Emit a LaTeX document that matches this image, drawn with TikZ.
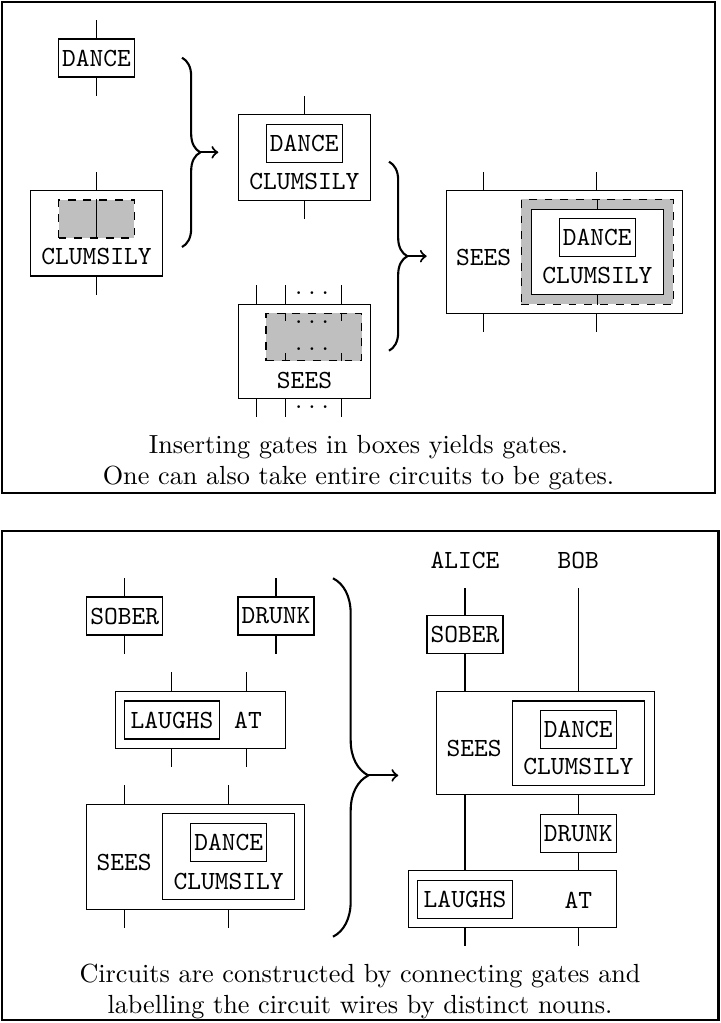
\documentclass[tikz,border=0pt]{standalone}
\usepackage{tikz}
\usetikzlibrary{calc,decorations.pathreplacing}

\begin{document}
\begin{tikzpicture}[
    x=0.3817pt, y=-0.3817pt,
    gate/.style={draw, font=\ttfamily, minimum width=29pt, minimum height=14.5pt, inner sep=0pt},
    box/.style={draw, inner sep=0pt},
    hole/.style={draw, dashed, fill=black!25, inner sep=0pt},
    word/.style={font=\ttfamily, inner sep=0pt},
    dots/.style={inner sep=0pt},
    note/.style={align=center, inner sep=0pt, anchor=north},
    wire/.style={thin},
    panel/.style={thick},
    curly/.style={decorate, decoration={brace, amplitude=7pt}, thick},
    arrow/.style={->, thick}
]
\useasboundingbox (0,0) rectangle (720,1023);

% Top panel
\draw[panel] (2,2) rectangle (715,493);

% DANCE gate
\node[gate] (dance1) at (96.5,58) {DANCE};
\draw[wire] (dance1.north) -- +(0,-18.3);
\draw[wire] (dance1.south) -- +(0,18.3);

% CLUMSILY box with a hole
\node[box, minimum width=50.5pt, minimum height=32.6pt] (clums1) at (96.5,233.3) {};
\node[hole, minimum width=29pt, minimum height=14.5pt] (hole1) at (96.5,219) {};
\draw[wire] (hole1.north) -- (hole1.south);
\node[word] (clums1txt) at (96.5,256.7) {CLUMSILY};
\draw[wire] (clums1.north) -- +(0,-18.3);
\draw[wire] (clums1.south) -- +(0,18.3);

% first brace
\coordinate (b1top) at (182,57.7);
\coordinate (b1bot) at (182,247);
\coordinate (b1tip) at (200.3,152.3);
\coordinate (b1end) at (218.3,152.3);
\draw[curly] (b1top) -- (b1bot);
\draw[arrow] (b1tip) -- (b1end);

% DANCE inside CLUMSILY
\node[box, minimum width=50.5pt, minimum height=32.5pt] (dc1) at (304.3,157.5) {};
\node[gate] (dance2) at (304.3,143.3) {DANCE};
\node[word] (dc1txt) at (304.3,181) {CLUMSILY};
\draw[wire] (dc1.north) -- +(0,-18.3);
\draw[wire] (dc1.south) -- +(0,18.3);

% SEES box with a hole
\node[box, minimum width=50.5pt, minimum height=36pt] (sees1) at (304.5,351.2) {};
\node[hole, minimum width=36.5pt, minimum height=18.1pt] (hole2) at (313.8,337) {};
\node[word] (sees1txt) at (304.5,380) {SEES};
\foreach \dx in {19,47.4,104} {
    \draw[wire] ($(sees1.north west)+(\dx,0)$) -- +(0,-19);
    \draw[wire] ($(sees1.south west)+(\dx,0)$) -- +(0,18.3);
}
\foreach \dx in {19.7,76.3} {
    \draw[wire] ($(hole2.north west)+(\dx,0)$) -- +(0,8.4);
    \draw[wire] ($(hole2.south west)+(\dx,0)$) -- +(0,-8.4);
}
\node[dots] (dotsA) at (312,293.3) {.\kern2.3pt.\kern2.3pt.};
\node[dots] (dotsB) at (312,321.7) {.\kern2.3pt.\kern2.3pt.};
\node[dots] (dotsC) at (312,349.3) {.\kern2.3pt.\kern2.3pt.};
\node[dots] (dotsD) at (312,406.7) {.\kern2.3pt.\kern2.3pt.};

% second brace
\coordinate (b2top) at (389,161.7);
\coordinate (b2bot) at (389,350.7);
\coordinate (b2tip) at (407.3,256.2);
\coordinate (b2end) at (426.7,256.2);
\draw[curly] (b2top) -- (b2bot);
\draw[arrow] (b2tip) -- (b2end);

% SEES with DANCE CLUMSILY inserted
\node[box, minimum width=90.2pt, minimum height=46.8pt] (sees2) at (564.2,252) {};
\node[hole, minimum width=57.9pt, minimum height=40pt] (hole3) at (597.3,251.7) {};
\draw[wire] (hole3.north) -- (hole3.south);
\node[box, fill=white, minimum width=50.5pt, minimum height=32.5pt] (dc2) at (597.3,251.8) {};
\node[gate] (dance3) at (597.3,237.8) {DANCE};
\node[word] (dc2txt) at (597.3,275.7) {CLUMSILY};
\node[word] (sees2txt) at (483.7,257) {SEES};
\foreach \dx in {38,151.3} {
    \draw[wire] ($(sees2.north west)+(\dx,0)$) -- +(0,-18.3);
    \draw[wire] ($(sees2.south west)+(\dx,0)$) -- +(0,18.3);
}

\node[note] (cap1) at (358.5,434.8) {Inserting gates in boxes yields gates.\\One can also take entire circuits to be gates.};

% Bottom panel
\draw[panel] (2,531) rectangle (718.5,1020);

% gates
\node[gate] (sober1) at (124.7,616) {SOBER};
\node[gate] (drunk1) at (276,616) {DRUNK};
\foreach \g in {sober1,drunk1} {
    \draw[wire] (\g.north) -- +(0,-18.3);
    \draw[wire] (\g.south) -- +(0,18.3);
}

% LAUGHS AT
\node[box, minimum width=65pt, minimum height=21.6pt] (la1) at (200.5,720) {};
\node[gate, minimum width=36.1pt] (laughs1) at (172,720) {LAUGHS};
\node[word] (at1) at (248,720.2) {AT};
\foreach \dx in {56.7,132} {
    \draw[wire] ($(la1.north west)+(\dx,0)$) -- +(0,-19);
    \draw[wire] ($(la1.south west)+(\dx,0)$) -- +(0,18.3);
}

% SEES DANCE CLUMSILY
\node[box, minimum width=83.1pt, minimum height=40pt] (sees3) at (195.5,856.7) {};
\node[box, minimum width=50.5pt, minimum height=32.5pt] (dc3) at (228.7,856.5) {};
\node[gate] (dance4) at (228.7,842.3) {DANCE};
\node[word] (dc3txt) at (228.7,881.7) {CLUMSILY};
\node[word] (sees3txt) at (124.2,862.3) {SEES};
\foreach \dx in {38.3,142} {
    \draw[wire] ($(sees3.north west)+(\dx,0)$) -- +(0,-18.3);
    \draw[wire] ($(sees3.south west)+(\dx,0)$) -- +(0,18.3);
}

% third brace
\coordinate (b3top) at (333,578.3);
\coordinate (b3bot) at (333,936.7);
\coordinate (b3tip) at (368.4,775.4);
\coordinate (b3end) at (398.3,775.4);
\draw[curly, decoration={brace, amplitude=13.5pt, aspect=0.55}] (b3top) -- (b3bot);
\draw[arrow] (b3tip) -- (b3end);

% circuit
\node[word] (alice) at (465,560) {ALICE};
\node[word] (bob) at (578.3,560) {BOB};
\node[gate] (sober2) at (465,634.8) {SOBER};
\node[box, minimum width=83.1pt, minimum height=39.4pt] (sees4) at (545.5,743.3) {};
\node[box, minimum width=50.5pt, minimum height=32.3pt] (dc4) at (578.3,743.3) {};
\node[gate] (dance5) at (578.3,729.5) {DANCE};
\node[word] (dc4txt) at (578.3,766.7) {CLUMSILY};
\node[word] (sees4txt) at (474.2,748) {SEES};
\node[gate] (drunk2) at (578.3,833.2) {DRUNK};
\node[box, minimum width=79.4pt, minimum height=21.8pt] (la2) at (512.3,899.2) {};
\node[gate, minimum width=36.1pt] (laughs2) at (465,899.3) {LAUGHS};
\node[word] (at2) at (578.3,900.7) {AT};

% wires of the circuit
\draw[wire] (alice) ++(0,28.3) -- (sober2);
\draw[wire] (sober2) -- (sober2 |- sees4.north);
\draw[wire] (sober2 |- sees4.south) -- (sober2 |- la2.north);
\draw[wire] (laughs2 |- la2.south) -- +(0,18);
\draw[wire] (bob) ++(0,28.3) -- (bob |- sees4.north);
\draw[wire] (bob |- sees4.south) -- (drunk2);
\draw[wire] (drunk2) -- (drunk2 |- la2.north);
\draw[wire] (drunk2 |- la2.south) -- +(0,18);

\node[note] (cap2) at (360,963.5) {Circuits are constructed by connecting gates and\\labelling the circuit wires by distinct nouns.};

\end{tikzpicture}
\end{document}
